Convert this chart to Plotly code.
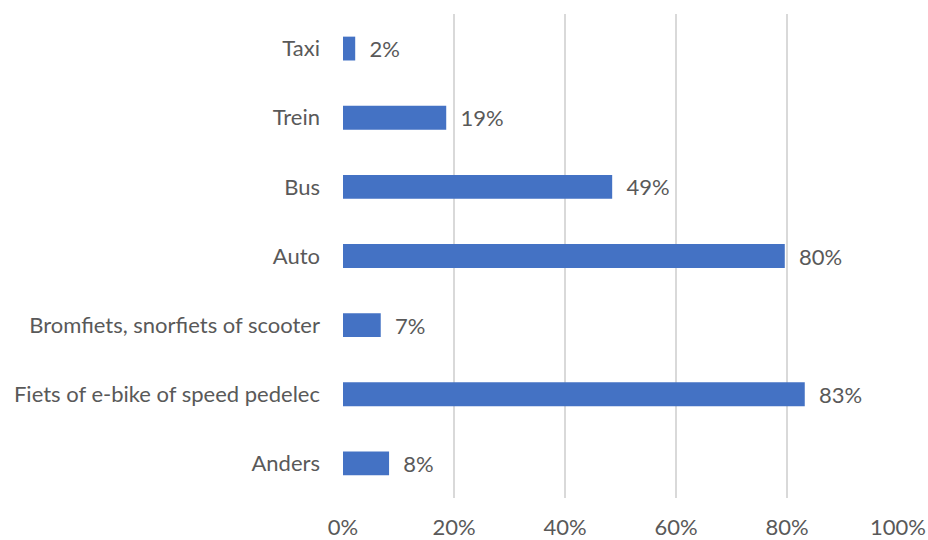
import plotly.graph_objects as go

categories = ["Taxi", "Trein", "Bus", "Auto", "Bromfiets, snorfiets of scooter",
              "Fiets of e-bike of speed pedelec", "Anders"]
values = [2.2, 18.6, 48.5, 79.6, 6.8, 83.2, 8.3]
labels = ["2%", "19%", "49%", "80%", "7%", "83%", "8%"]
tick_vals = [0, 20, 40, 60, 80, 100]
tick_text = ["0%", "20%", "40%", "60%", "80%", "100%"]

FONT = "Lato, Calibri, Carlito, sans-serif"
TXT = "#595959"
FS = 22

fig = go.Figure(go.Bar(
    y=categories,
    x=values,
    orientation="h",
    marker=dict(color="#4472C4", line=dict(width=0)),
    text=["\u00a0\u00a0" + t for t in labels],
    textposition="outside",
    constraintext="none",
    textfont=dict(family=FONT, size=FS, color=TXT),
    cliponaxis=False,
    hoverinfo="skip",
))

fig.update_layout(
    width=928, height=540,
    margin=dict(l=343, r=30, t=14, b=42, autoexpand=False),
    paper_bgcolor="white", plot_bgcolor="white",
    bargap=0.655,
    showlegend=False,
    font=dict(family=FONT, size=FS, color=TXT),
    uniformtext=dict(mode=False),
)
fig.update_xaxes(
    range=[0, 100],
    tickvals=tick_vals, ticktext=tick_text,
    showgrid=True, gridcolor="#D9D9D9", gridwidth=1.5,
    zeroline=False, showline=False,
    ticks="", ticklabelstandoff=14,
    tickfont=dict(family=FONT, size=FS, color=TXT),
    fixedrange=True,
)
fig.update_yaxes(
    categoryorder="array", categoryarray=categories[::-1],
    showgrid=False, zeroline=False, showline=False,
    ticks="", ticklabelstandoff=22,
    tickfont=dict(family=FONT, size=FS, color=TXT),
    automargin=False,
    fixedrange=True,
)

fig.write_html("out.html", config={"displayModeBar": False},
               post_script="document.body.style.margin='0';document.body.style.overflow='hidden';")
